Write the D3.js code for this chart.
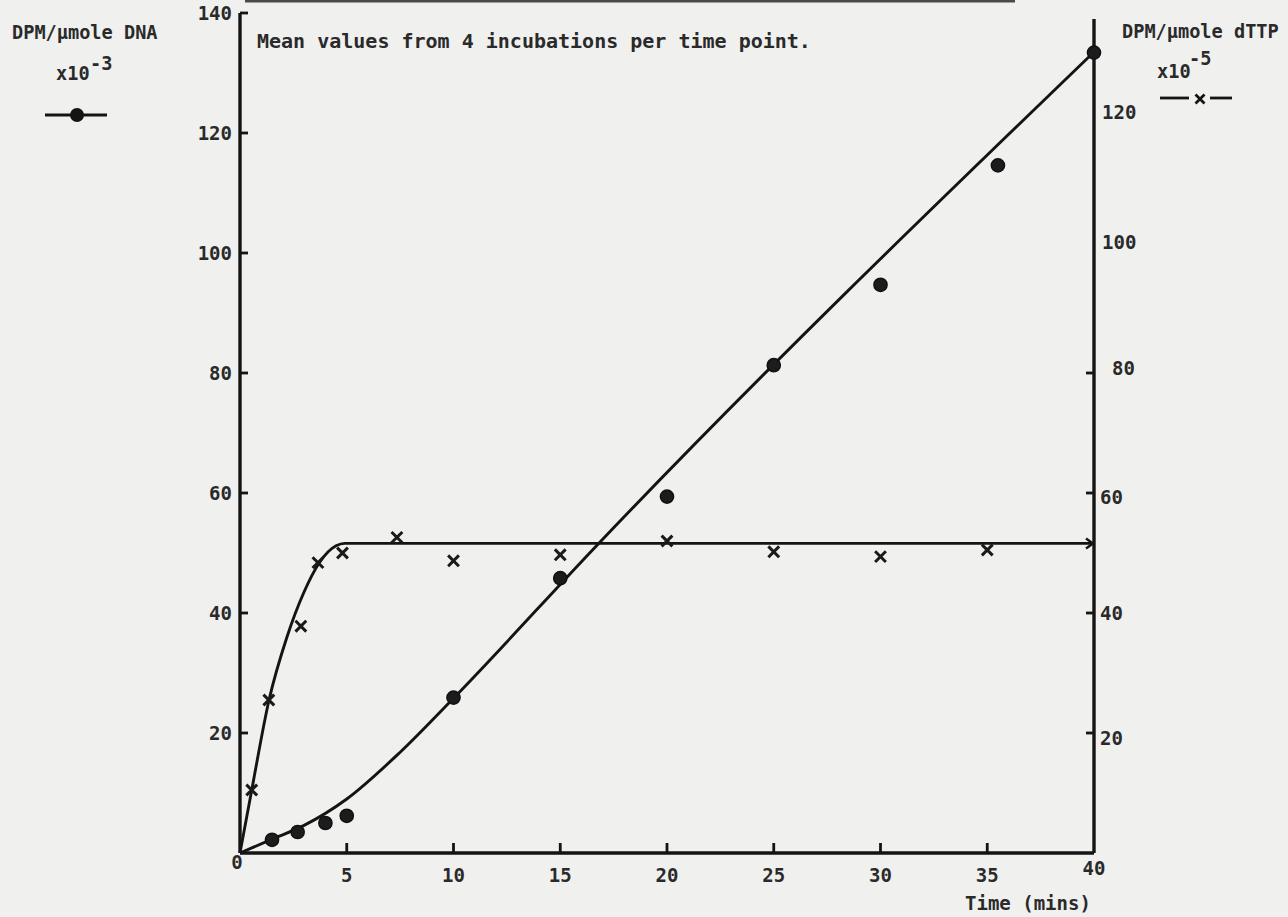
<!DOCTYPE html>
<html>
<head>
<meta charset="utf-8">
<script src="https://cdn.jsdelivr.net/npm/d3@7"></script>
<style>
  html, body { margin: 0; padding: 0; background: #f0f0ef; }
  svg { display: block; }
  text { font-family: "DejaVu Sans Mono", "Liberation Mono", monospace; fill: #2a2a2a; font-weight: bold; }
</style>
</head>
<body>
<svg id="chart" width="1288" height="917"></svg>
<script>
// Incorporation into DNA (left axis, x10^-3) : filled circles
const timeDNA   = [1.5, 2.7, 4, 5, 10, 15, 20, 25, 30, 35.5, 40];
const dnaValues = [2.2, 3.5, 5.0, 6.2, 25.9, 45.8, 59.4, 81.3, 94.7, 114.6, 133.4];

// dTTP pool labelling (right axis, x10^-5) : crosses
const timeTTP   = [0.55, 1.35, 2.85, 3.65, 4.8, 7.35, 10, 15, 20, 25, 30, 35];
const ttpValues = [10.5, 25.5, 37.8, 48.4, 50.0, 52.6, 48.7, 49.7, 52.0, 50.2, 49.4, 50.5];

// Hand-drawn fitted curves through the points
const dnaFitTime   = [0, 1.5, 3, 5, 7.5, 10, 16.8, 40];
const dnaFitValues = [0, 2.3, 4.6, 9.0, 16.8, 25.8, 51.6, 133.5];
const ttpFitTime   = [0, 0.55, 1.36, 2.2, 3.0, 3.7, 4.5, 4.9, 40];
const ttpFitValues = [0, 10.5, 25.5, 36, 43.5, 48.3, 51.2, 51.6, 51.6];

// Axis ticks
const xTicks      = [5, 10, 15, 20, 25, 30, 35];
const xTickLabels = ["0", "5", "10", "15", "20", "25", "30", "35", "40"];
const yLeftTicks  = [20, 40, 60, 80, 100, 120, 140];
const yRightTicks = [20, 40, 60, 80];
const yRightLabels = ["20", "40", "60", "80", "100", "120"];

const svg = d3.select("#chart");
const ink = "#141414";

const x = d3.scaleLinear().domain([0, 40]).range([240, 1094]);
const y = d3.scaleLinear().domain([0, 140]).range([853, 13]);   // left axis
const yR = d3.scaleLinear().domain([0, 140]).range([853, 13]);  // right axis

// remnant rule along the top edge of the page
svg.append("line").attr("x1", 245).attr("x2", 1015).attr("y1", 1).attr("y2", 1)
  .attr("stroke", "#4a4a4a").attr("stroke-width", 3);

// ---- left axis ----
const gLeft = svg.append("g").attr("transform", `translate(${x(0)},0)`);
gLeft.append("line").attr("y1", y(0)).attr("y2", y(140))
  .attr("stroke", ink).attr("stroke-width", 3.4);
gLeft.selectAll("line.tick").data(yLeftTicks).join("line")
  .attr("class", "tick").attr("x1", 0).attr("x2", 8)
  .attr("y1", d => y(d)).attr("y2", d => y(d))
  .attr("stroke", ink).attr("stroke-width", 2.8);
gLeft.selectAll("text").data(yLeftTicks).join("text")
  .attr("x", -8).attr("y", d => y(d) + 7).attr("text-anchor", "end")
  .attr("font-size", 19).text(d => d);

// ---- bottom axis ----
const gBottom = svg.append("g");
gBottom.append("line").attr("x1", x(0)).attr("x2", x(40)).attr("y1", y(0)).attr("y2", y(0))
  .attr("stroke", ink).attr("stroke-width", 3.6);
gBottom.selectAll("line.tick").data(xTicks).join("line")
  .attr("class", "tick").attr("x1", d => x(d)).attr("x2", d => x(d))
  .attr("y1", y(0)).attr("y2", y(0) - 10)
  .attr("stroke", ink).attr("stroke-width", 2.8);
gBottom.selectAll("text").data(xTickLabels).join("text")
  .attr("x", d => +d === 0 ? x(0) - 3 : x(+d))
  .attr("y", d => +d === 0 ? y(0) + 16 : (+d === 40 ? y(0) + 22 : y(0) + 29))
  .attr("text-anchor", "middle").attr("font-size", 19).text(d => d);
svg.append("text").attr("x", 965).attr("y", 910).attr("font-size", 19).text("Time (mins)");

// ---- right axis ----
const gRight = svg.append("g").attr("transform", `translate(${x(40)},0)`);
gRight.append("line").attr("y1", yR(0)).attr("y2", yR(139))
  .attr("stroke", ink).attr("stroke-width", 3.4);
gRight.selectAll("line.tick").data(yRightTicks).join("line")
  .attr("class", "tick").attr("x1", -8).attr("x2", 0)
  .attr("y1", d => yR(d)).attr("y2", d => yR(d))
  .attr("stroke", ink).attr("stroke-width", 2.8);
// labels without a tick mark sit a little higher
const rightNudge = { "20": [6, 12], "40": [6, 7], "60": [6, 11], "80": [18, 2], "100": [8, -4], "120": [8, -14] };
gRight.selectAll("text").data(yRightLabels).join("text")
  .attr("x", d => rightNudge[d][0]).attr("y", d => yR(+d) + rightNudge[d][1])
  .attr("font-size", 19).text(d => d);

// ---- note ----
svg.append("text").attr("x", 257).attr("y", 48).attr("font-size", 20)
  .text("Mean values from 4 incubations per time point.");

// ---- fitted curves ----
const lineL = d3.line().x(d => x(d[0])).y(d => y(d[1])).curve(d3.curveMonotoneX);
const lineR = d3.line().x(d => x(d[0])).y(d => yR(d[1])).curve(d3.curveMonotoneX);
svg.append("path").datum(d3.zip(dnaFitTime, dnaFitValues)).attr("d", lineL)
  .attr("fill", "none").attr("stroke", ink).attr("stroke-width", 2.9);
svg.append("path").datum(d3.zip(ttpFitTime, ttpFitValues)).attr("d", lineR)
  .attr("fill", "none").attr("stroke", ink).attr("stroke-width", 2.9);

// arrow head where the plateau meets the right axis
const plateau = ttpFitValues[ttpFitValues.length - 1];
svg.append("path")
  .attr("d", `M${x(40) - 8},${yR(plateau) - 5} L${x(40) - 1},${yR(plateau)} L${x(40) - 8},${yR(plateau) + 5}`)
  .attr("fill", "none").attr("stroke", ink).attr("stroke-width", 2.4);

// ---- data points ----
svg.append("g").selectAll("circle").data(d3.zip(timeDNA, dnaValues)).join("circle")
  .attr("cx", d => x(d[0])).attr("cy", d => y(d[1])).attr("r", 6.6)
  .attr("fill", "#1c1c1c").attr("stroke", "#111").attr("stroke-width", 1.5);

const cross = (cx, cy, s) => `M${cx - s},${cy - s}L${cx + s},${cy + s}M${cx + s},${cy - s}L${cx - s},${cy + s}`;
svg.append("g").selectAll("path").data(d3.zip(timeTTP, ttpValues)).join("path")
  .attr("d", d => cross(x(d[0]), yR(d[1]), 5.4))
  .attr("stroke", "#1a1a1a").attr("stroke-width", 3).attr("fill", "none");

// ---- legends ----
const legL = svg.append("g");
legL.append("text").attr("x", 12).attr("y", 39).attr("font-size", 18.6).text("DPM/\u00b5mole DNA");
legL.append("text").attr("x", 56).attr("y", 80).attr("font-size", 18.6).text("x10");
legL.append("text").attr("x", 90).attr("y", 70).attr("font-size", 18.6).text("-3");
legL.append("line").attr("x1", 45).attr("x2", 107).attr("y1", 115).attr("y2", 115)
  .attr("stroke", ink).attr("stroke-width", 3.2);
legL.append("circle").attr("cx", 77).attr("cy", 115).attr("r", 7).attr("fill", ink);

const legR = svg.append("g");
legR.append("text").attr("x", 1122).attr("y", 38).attr("font-size", 18.6).text("DPM/\u00b5mole dTTP");
legR.append("text").attr("x", 1157).attr("y", 78).attr("font-size", 18.6).text("x10");
legR.append("text").attr("x", 1189).attr("y", 65).attr("font-size", 18.6).text("-5");
legR.append("line").attr("x1", 1160).attr("x2", 1189).attr("y1", 98).attr("y2", 98)
  .attr("stroke", ink).attr("stroke-width", 2.8);
legR.append("line").attr("x1", 1210).attr("x2", 1232).attr("y1", 98).attr("y2", 98)
  .attr("stroke", ink).attr("stroke-width", 2.8);
legR.append("path").attr("d", cross(1200, 99, 4.5)).attr("stroke", ink)
  .attr("stroke-width", 2.8).attr("fill", "none");
</script>
</body>
</html>
